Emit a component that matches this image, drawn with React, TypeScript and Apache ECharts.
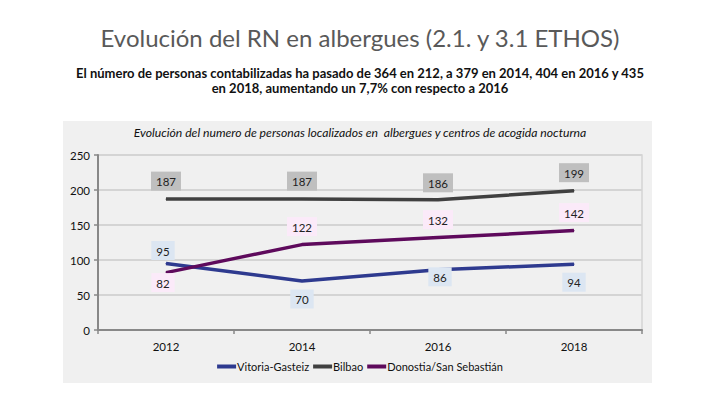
import React, { useEffect, useRef } from "react";
import * as echarts from "echarts";

const years = ["2012", "2014", "2016", "2018"];
const vitoria = [95, 70, 86, 94];
const bilbao = [187, 187, 186, 199];
const donostia = [82, 122, 132, 142];
const vitoriaPos = ["top", "bottom", "bottom", "bottom"];
const bilbaoPos = ["top", "top", "top", "top"];
const donostiaPos = ["bottom", "top", "top", "top"];
const seriesNames = ["Vitoria-Gasteiz", "Bilbao", "Donostia/San Sebastián"];

// label nudges (style only)
const vitoriaNudge = [[-3, 5], [0, 0], [2, -11], [0, 0]];
const bilbaoNudge = [[0, 0], [0, 0], [0, 1], [0, 0]];
const donostiaNudge = [[-3, -8], [0, 0], [0, 0], [0, 0]];

const FONT = "Lato";

function mk(name: string, values: number[], pos: string[], nudge: number[][], color: string, labelBg: string) {
  return {
    name,
    type: "line",
    data: values.map((v, i) => ({ value: v, label: { show: true, position: pos[i], offset: nudge[i] } })),
    symbol: "circle",
    symbolSize: 1,
    showSymbol: true,
    showAllSymbol: true,
    lineStyle: { color, width: 3.5 },
    itemStyle: { color },
    label: {
      show: true,
      position: "top",
      distance: 8,
      color: "#222",
      fontFamily: FONT,
      fontSize: 11.5,
      backgroundColor: labelBg,
      padding: [4, 5, 3, 5],
    },
  };
}

export default function App() {
  const ref = useRef<HTMLDivElement>(null);
  useEffect(() => {
    const chart = echarts.init(ref.current!, null, { renderer: "svg" });
    chart.setOption({
      animation: false,
      backgroundColor: "#ffffff",
      title: [
        {
          text: "Evolución del RN en albergues (2.1. y 3.1 ETHOS)",
          left: "center",
          top: 25,
          padding: 0,
          textStyle: { fontFamily: FONT, fontSize: 24, fontWeight: "normal", color: "#595959" },
        },
        {
          text: "El número de personas contabilizadas ha pasado de 364 en 212, a 379 en 2014, 404 en 2016 y 435",
          left: "center",
          top: 66,
          padding: 0,
          textStyle: { fontFamily: FONT, fontSize: 13, fontWeight: "bold", color: "#111" },
        },
        {
          text: "en 2018, aumentando un 7,7% con respecto a 2016",
          left: "center",
          top: 81,
          padding: 0,
          textStyle: { fontFamily: FONT, fontSize: 13, fontWeight: "bold", color: "#111" },
        },
        {
          text: "Evolución del numero de personas localizados en  albergues y centros de acogida nocturna",
          left: "center",
          top: 126,
          padding: 0,
          textStyle: { fontFamily: FONT, fontSize: 12.2, fontStyle: "italic", fontWeight: "normal", color: "#111" },
        },
      ],
      graphic: [
        {
          type: "rect",
          z: -100,
          silent: true,
          shape: { x: 63, y: 121, width: 589, height: 262 },
          style: { fill: "#f0f0f0" },
        },
      ],
      grid: {
        left: 98,
        right: 78,
        top: 155,
        bottom: 75,
        show: true,
        borderColor: "#d4d4d4",
        borderWidth: 1.5,
        backgroundColor: "transparent",
      },
      legend: {
        bottom: 28,
        left: "center",
        icon: "rect",
        itemWidth: 19,
        itemHeight: 4,
        itemGap: 4,
        data: seriesNames,
        textStyle: { fontFamily: FONT, fontSize: 11, color: "#111", padding: [0, 0, 0, -4] },
      },
      xAxis: {
        type: "category",
        data: years,
        boundaryGap: true,
        axisLine: { lineStyle: { color: "#888", width: 2 } },
        axisTick: { show: true, alignWithLabel: false, length: 4, lineStyle: { color: "#888", width: 1.5 } },
        axisLabel: { fontFamily: FONT, fontSize: 11.5, color: "#111", margin: 10 },
      },
      yAxis: {
        type: "value",
        min: 0,
        max: 250,
        interval: 50,
        axisLine: { show: true, lineStyle: { color: "#888", width: 2 } },
        axisTick: { show: true, length: 4, lineStyle: { color: "#888", width: 1.5 } },
        axisLabel: { fontFamily: FONT, fontSize: 11.5, color: "#111", margin: 8 },
        splitLine: { lineStyle: { color: "#d4d4d4", width: 2 } },
      },
      series: [
        mk(seriesNames[0], vitoria, vitoriaPos, vitoriaNudge, "#2e3a8f", "#dce6f2"),
        mk(seriesNames[1], bilbao, bilbaoPos, bilbaoNudge, "#404040", "#bfbfbf"),
        mk(seriesNames[2], donostia, donostiaPos, donostiaNudge, "#5e0a5c", "#fbeaf9"),
      ],
    });
    return () => chart.dispose();
  }, []);
  return <div ref={ref} style={{ width: 720, height: 405, position: "absolute", left: 0, top: 0 }} />;
}
